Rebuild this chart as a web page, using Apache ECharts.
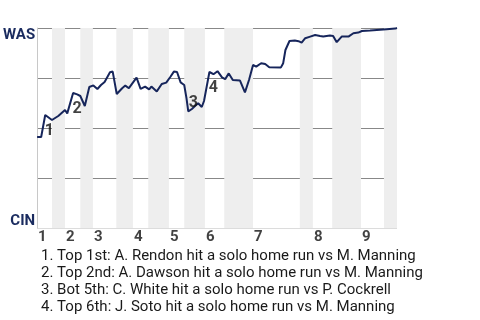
<!DOCTYPE html>
<html>
<head>
<meta charset="utf-8">
<script src="https://cdn.jsdelivr.net/npm/echarts@6/dist/echarts.min.js"></script>
<style>html,body{margin:0;padding:0;background:#fff}#c{width:480px;height:320px}</style>
</head>
<body>
<div id="c"></div>
<script>
// Play progress (x) and WAS win probability in % (y)
const plays = [0,0.9,1.8,2.2,3.3,4.7,6.2,6.7,7.1,8.0,8.9,9.6,10.6,11.6,12.5,13.4,14.2,15.0,16.2,16.8,17.7,18.9,19.6,20.4,22.1,23.0,24.0,24.9,25.4,26.6,27.7,28.7,29.6,30.4,31.1,31.9,32.7,33.2,33.6,34.4,35.1,35.8,36.6,37.1,38.3,39.2,40.1,41.1,41.8,42.6,43.5,45.1,46.2,47.1,48.0,48.7,49.8,50.7,51.6,54.2,54.7,55.2,56.1,57.3,58.1,58.8,59.6,60.7,61.8,62.9,63.6,65.1,65.8,66.6,67.7,69.2,70.3,71.4,72.2,74.0,75.5,77.7,79.6,80];
const winProb = [45.5,45.5,56.5,57,54,56,59,57.3,58,67.5,66.8,66,61,70.5,71.3,69.5,71.5,73,77.9,78.2,67,69.9,71.2,69.9,75.2,69.6,70.7,69.3,70.7,68.3,72,72.7,75.5,78.2,78,72.8,71.5,64.9,58.3,59.5,61,62.4,60.5,63.5,78,76.9,78.4,75.3,74.4,77.3,74,73.7,67.8,74,81.5,80.7,82.4,82,80.4,80.3,82.4,89,93.5,93.7,93.4,92.7,94.9,95.7,96.5,96,95.7,96.2,96,92.9,95.7,95.7,97.4,97.7,98.5,98.7,99,99.4,99.7,100];
// half-inning boundaries (play progress)
const halfInningStarts = [0,3.3,6.2,9.6,12.4,17.6,21.3,24.7,29.3,32.7,37.3,41.6,48,58.4,61.3,65.6,72,77.1];
const gameEnd = 80;
const innings = ['1','2','3','4','5','6','7','8','9'];
// home runs
const hrLabels = ['1','2','3','4'];
const hrPlays = [1.8,8.0,33.6,38.3];
const hrProb = [56.5,67.5,58.3,78];
const hrTeam = ['WAS','WAS','CIN','WAS'];
const notes = [
  '1. Top 1st: A. Rendon hit a solo home run vs M. Manning',
  '2. Top 2nd: A. Dawson hit a solo home run vs M. Manning',
  '3. Bot 5th: C. White hit a solo home run vs P. Cockrell',
  '4. Top 6th: J. Soto hit a solo home run vs M. Manning'
];
const awayTeam = 'WAS', homeTeam = 'CIN';

const lineData = plays.map((p,i)=>[p, winProb[i]]);
const bands = [];
for (let i = 1; i < halfInningStarts.length; i += 2) {
  const end = i + 1 < halfInningStarts.length ? halfInningStarts[i+1] : gameEnd;
  bands.push([{xAxis: halfInningStarts[i]}, {xAxis: end}]);
}
const inningData = innings.map((n,i)=>({value:[halfInningStarts[i*2],0], name:n}));
const hrData = hrLabels.map((n,i)=>({
  value:[hrPlays[i], hrProb[i]], name:n,
  label:{offset: hrTeam[i]===awayTeam ? [4,16] : [5,-8]}
}));

const chart = echarts.init(document.getElementById('c'), null, {renderer:'canvas'});
chart.setOption({
  animation:false,
  grid:{left:37,right:83,top:28,bottom:92},
  title:{
    text: notes.join('\n'), left:36, top:243,
    textStyle:{fontFamily:'Roboto',fontSize:15,fontWeight:'normal',color:'#1a1a1a',lineHeight:17}
  },
  xAxis:{type:'value',min:0,max:gameEnd,
    axisLine:{show:false},axisTick:{show:false},axisLabel:{show:false},splitLine:{show:false}},
  yAxis:{type:'value',min:0,max:100,interval:25,
    axisLine:{show:true,lineStyle:{color:'#c8c8c8',width:1}},
    axisTick:{show:false},
    splitLine:{show:true,lineStyle:{color:['#dcdcdc','#888','#888','#888','#888'],width:1}},
    axisLabel:{margin:2,
      formatter:v=> v===100 ? '{a|'+awayTeam+'}' : (v===0 ? '{h|'+homeTeam+'}' : ''),
      rich:{
        a:{fontFamily:'Roboto',fontSize:15,fontWeight:'bold',color:'#1a2b5f',padding:[14,0,0,0]},
        h:{fontFamily:'Roboto',fontSize:15,fontWeight:'bold',color:'#1a2b5f',padding:[0,0,14,0]}
      }}
  },
  series:[
    {type:'scatter', z:-1, symbolSize:0, data:inningData, silent:true,
      label:{show:true,position:'bottom',distance:2,align:'left',offset:[1,0],formatter:'{b}',
        fontFamily:'Roboto',fontSize:15,fontWeight:'bold',color:'#111'},
      markArea:{silent:true,itemStyle:{color:'#eeeeee'},data:bands}
    },
    {type:'line', data:lineData, symbol:'none', lineStyle:{color:'#16255b',width:2}, z:3},
    {type:'scatter', symbolSize:0, data:hrData, z:4, silent:true,
      label:{show:true,position:'inside',formatter:'{b}',fontFamily:'Roboto',fontSize:16,fontWeight:'bold',color:'#111'}}
  ]
});
</script>
</body>
</html>
